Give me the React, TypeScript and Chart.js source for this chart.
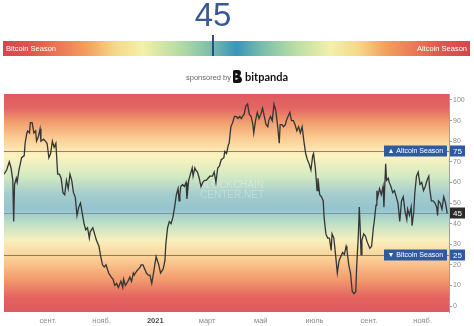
import React, { useEffect, useRef } from "react";
import { Chart, registerables } from "chart.js";

Chart.register(...registerables);

// ---- data -------------------------------------------------------------
const seriesStart = "2020-07-13";
const axisEnd = "2021-12-01";

// days since seriesStart for each reading of the index
const readingDays = [
  0, 3, 6, 8, 10, 11, 12, 14, 15, 17, 19, 20, 23, 24, 26, 27, 29, 30, 32, 34,
  36, 37, 39, 41, 42, 45, 47, 49, 51, 53, 55, 57, 59, 61, 63, 65, 67, 69, 71, 73,
  75, 77, 79, 81, 83, 85, 87, 89, 91, 93, 95, 97, 98, 101, 103, 105, 108, 110, 112, 114,
  116, 117, 119, 122, 124, 126, 128, 130, 133, 135, 136, 138, 141, 143, 145, 147, 148, 151, 153, 155,
  156, 158, 160, 162, 164, 166, 168, 170, 173, 176, 178, 181, 183, 184, 186, 188, 190, 192, 194, 196,
  198, 199, 200, 201, 203, 205, 207, 208, 210, 212, 214, 215, 217, 218, 220, 222, 224, 226, 228, 230,
  232, 234, 236, 237, 239, 241, 243, 245, 247, 250, 251, 253, 255, 256, 258, 260, 262, 264, 266, 268,
  270, 271, 273, 275, 277, 279, 281, 283, 284, 286, 288, 290, 292, 294, 296, 298, 300, 301, 303, 305,
  307, 309, 311, 313, 314, 316, 318, 320, 321, 323, 325, 327, 329, 331, 333, 335, 337, 339, 341, 343,
  345, 347, 349, 351, 352, 354, 356, 357, 359, 361, 363, 364, 366, 368, 370, 372, 373, 375, 377, 379,
  381, 383, 385, 387, 389, 390, 392, 394, 396, 398, 400, 401, 403, 404, 405, 406, 407, 409, 411, 413,
  415, 416, 418, 420, 421, 423, 424, 425, 427, 429, 431, 432, 434, 435, 437, 438, 440, 442, 444, 446,
  448, 450, 452, 454, 456, 458, 459, 461, 463, 464, 466, 467, 469, 471, 473, 475, 477, 479, 481, 483,
  484, 486, 488, 490, 492, 493, 494, 496, 498, 500, 502, 504,
];

// Altcoin Season Index value at each reading
const indexValues = [
  64, 66, 70, 67, 61, 41, 59, 62, 60, 66, 70, 72, 73, 79, 84, 85, 84, 89, 89, 84,
  85, 80, 82, 86, 80, 81, 80, 79, 72, 74, 80, 77, 79, 64, 64, 62, 55, 54, 61, 57,
  64, 61, 55, 53, 44, 48, 50, 45, 40, 37, 38, 33, 36, 38, 35, 32, 29, 24, 20, 19,
  20, 20, 16, 14, 13, 10, 11, 9, 12, 9, 13, 10, 12, 14, 12, 16, 15, 17, 18, 19,
  20, 20, 18, 16, 15, 15, 11, 16, 24, 20, 16, 18, 22, 30, 38, 41, 40, 43, 48, 54,
  57, 51, 54, 58, 59, 58, 60, 52, 61, 64, 67, 63, 67, 66, 65, 62, 58, 60, 61, 61,
  62, 63, 63, 63, 65, 60, 67, 68, 71, 72, 75, 74, 78, 79, 87, 89, 92, 92, 91, 92,
  91, 92, 93, 97, 98, 93, 92, 88, 84, 90, 94, 91, 93, 96, 92, 88, 87, 90, 92, 90,
  98, 95, 88, 79, 88, 88, 87, 88, 90, 92, 94, 90, 90, 88, 85, 87, 84, 87, 80, 74,
  71, 69, 66, 73, 74, 67, 56, 62, 54, 53, 51, 43, 35, 33, 33, 27, 35, 33, 25, 16,
  22, 24, 26, 25, 29, 27, 20, 16, 7, 6, 7, 19, 35, 48, 38, 25, 32, 35, 34, 31,
  29, 28, 29, 38, 41, 49, 56, 53, 57, 54, 58, 48, 69, 61, 62, 60, 58, 55, 56, 53,
  50, 41, 51, 53, 46, 42, 47, 44, 48, 39, 46, 54, 63, 65, 59, 60, 56, 58, 61, 63,
  57, 51, 51, 50, 48, 44, 51, 50, 47, 53, 50, 45,
];

const currentIndex = 45;
const altcoinSeasonLevel = 75;
const bitcoinSeasonLevel = 25;

const yTickValues = [0, 10, 20, 30, 40, 50, 60, 70, 80, 90, 100];
const monthTickDates = [
  "2020-09-01", "2020-11-01", "2021-01-01", "2021-03-01",
  "2021-05-01", "2021-07-01", "2021-09-01", "2021-11-01",
];
const monthTickLabels = ["сент.", "нояб.", "2021", "март", "май", "июль", "сент.", "нояб."];

// ---- helpers ----------------------------------------------------------
const DAY_MS = 86400000;
const dayOf = (iso: string) =>
  Math.round((Date.parse(iso) - Date.parse(seriesStart)) / DAY_MS);

const FONT = '"Liberation Sans", Arial, sans-serif';

// colour bands of the index background, keyed by index level
const bandStops: [number, string][] = [
  [103, "#de5a5f"],
  [96, "#e36663"],
  [89, "#f19f6e"],
  [81, "#fbcf96"],
  [73, "#fdf3bf"],
  [63, "#d3eac2"],
  [54, "#a3ccce"],
  [47, "#95c4cf"],
  [40, "#bfe0c6"],
  [32, "#f8f0bc"],
  [23, "#fbcf96"],
  [13, "#f29c6d"],
  [4, "#e3625f"],
  [-3, "#de5a5f"],
];

const seasonPlugin = {
  id: "seasonBands",
  beforeDatasetsDraw(chart: any) {
    const { ctx, chartArea, scales } = chart;
    const { left, right, top, bottom } = chartArea;
    const y = scales.y;
    ctx.save();
    const g = ctx.createLinearGradient(0, top, 0, bottom);
    for (const [v, c] of bandStops) {
      const p = (y.getPixelForValue(v) - top) / (bottom - top);
      g.addColorStop(Math.min(1, Math.max(0, p)), c);
    }
    ctx.fillStyle = g;
    ctx.fillRect(left, top, right - left, bottom - top);

    // site watermark
    ctx.fillStyle = "rgba(255,255,255,0.3)";
    ctx.font = `10px ${FONT}`;
    ctx.textAlign = "right";
    ctx.textBaseline = "middle";
    ctx.fillText("BLOCKCHAIN", 264, 185);
    ctx.fillText("CENTER.NET", 264, 195);

    // threshold and current level lines
    const hline = (v: number, color: string) => {
      const py = Math.round(y.getPixelForValue(v)) + 0.5;
      ctx.strokeStyle = color;
      ctx.lineWidth = 1;
      ctx.beginPath();
      ctx.moveTo(left, py);
      ctx.lineTo(right, py);
      ctx.stroke();
    };
    hline(altcoinSeasonLevel, "rgba(95,95,95,0.75)");
    hline(bitcoinSeasonLevel, "rgba(95,95,95,0.75)");
    hline(currentIndex, "rgba(80,110,125,0.55)");
    ctx.restore();
  },
  afterDraw(chart: any) {
    const { ctx, chartArea, scales } = chart;
    const y = scales.y;
    const right = chartArea.right;
    ctx.save();
    ctx.textBaseline = "middle";

    const tag = (v: number, text: string, bg: string) => {
      const py = Math.round(y.getPixelForValue(v));
      ctx.font = `7px ${FONT}`;
      const w = Math.max(58, Math.ceil(ctx.measureText(text).width) + 7);
      ctx.fillStyle = bg;
      ctx.fillRect(right - 2 - w, py - 5.5, w, 11);
      ctx.fillStyle = "#ffffff";
      ctx.textAlign = "left";
      ctx.fillText(text, right - 2 - w + 3.5, py + 0.5);
    };
    const valueBox = (v: number, bg: string) => {
      const py = Math.round(y.getPixelForValue(v));
      ctx.fillStyle = bg;
      ctx.fillRect(right + 1, py - 5.5, 15, 11);
      ctx.fillStyle = "#ffffff";
      ctx.font = `8px ${FONT}`;
      ctx.textAlign = "center";
      ctx.fillText(String(v), right + 8.5, py + 0.5);
    };
    tag(altcoinSeasonLevel, "▲ Altcoin Season", "#2d5aa2");
    valueBox(altcoinSeasonLevel, "#2d5aa2");
    tag(bitcoinSeasonLevel, "▼ Bitcoin Season", "#2d5aa2");
    valueBox(bitcoinSeasonLevel, "#2d5aa2");
    valueBox(currentIndex, "#2a2a2a");
    ctx.restore();
  },
};

const headerGradient =
  "linear-gradient(to right, #d8444e 0%, #e05a50 7%, #f3a05e 18%, #f6d88a 24%, #f3f1aa 30%, #b4dba4 38%, #7fc0ab 44%, #3a95ba 50%, #7fc0ab 56%, #b4dba4 62%, #f3f1aa 70%, #f6d88a 76%, #f3a05e 82%, #e05a50 93%, #d8444e 100%)";

export default function App() {
  const canvasRef = useRef<HTMLCanvasElement>(null);

  useEffect(() => {
    const canvas = canvasRef.current;
    if (!canvas) return;
    const points = readingDays.map((d, i) => ({ x: d, y: indexValues[i] }));
    const chart = new Chart(canvas, {
      type: "line",
      data: {
        datasets: [
          {
            data: points,
            borderColor: "#353535",
            borderWidth: 1.3,
            pointRadius: 0,
            tension: 0,
            fill: false,
          },
        ],
      },
      options: {
        responsive: false,
        animation: false,
        devicePixelRatio: 1,
        layout: { padding: { left: 4, top: 94, right: 0, bottom: 0 } },
        plugins: { legend: { display: false }, tooltip: { enabled: false } },
        scales: {
          x: {
            type: "linear",
            min: 0,
            max: dayOf(axisEnd),
            grid: { display: false, drawTicks: false },
            border: { display: false },
            afterBuildTicks: (scale: any) => {
              scale.ticks = monthTickDates.map((d) => ({ value: dayOf(d) }));
            },
            afterFit: (scale: any) => {
              scale.height = 14;
            },
            ticks: {
              autoSkip: false,
              maxRotation: 0,
              padding: 4,
              callback: (_v: any, i: number) => monthTickLabels[i],
              color: (c: any) => (monthTickLabels[c.index] === "2021" ? "#505050" : "#8a8a8a"),
              font: (c: any) =>
                monthTickLabels[c.index] === "2021"
                  ? { family: FONT, size: 7.5, weight: "bold" }
                  : { family: FONT, size: 7.5 },
            },
          },
          y: {
            position: "right",
            min: -2.9,
            max: 102.9,
            afterBuildTicks: (scale: any) => {
              scale.ticks = yTickValues.map((v) => ({ value: v }));
            },
            afterFit: (scale: any) => {
              scale.width = 25;
            },
            grid: { drawOnChartArea: false, tickLength: 3, color: "#a0a0a0" },
            border: { color: "#a0a0a0" },
            ticks: {
              padding: 1,
              color: "#8a8a8a",
              font: { family: FONT, size: 7 },
            },
          },
        },
      },
      plugins: [seasonPlugin],
    } as any);
    return () => chart.destroy();
  }, []);

  return (
    <div
      style={{
        position: "fixed",
        left: 0,
        top: 0,
        width: 474,
        height: 326,
        background: "#ffffff",
        overflow: "hidden",
        fontFamily: FONT,
      }}
    >
      <canvas
        ref={canvasRef}
        width={474}
        height={326}
        style={{ position: "absolute", left: 0, top: 0, width: 474, height: 326 }}
      />
      {/* current index value */}
      <div
        style={{
          position: "absolute",
          left: 183,
          top: -2,
          width: 60,
          textAlign: "center",
          fontSize: 33,
          lineHeight: "33px",
          color: "#3a5994",
        }}
      >
        {currentIndex}
      </div>
      {/* season scale */}
      <div
        style={{
          position: "absolute",
          left: 3,
          top: 41,
          width: 467,
          height: 15,
          background: headerGradient,
        }}
      />
      <div
        style={{
          position: "absolute",
          left: 3 + (467 * currentIndex) / 100 - 1,
          top: 35,
          width: 2,
          height: 21,
          background: "#2f4c80",
        }}
      />
      <div
        style={{
          position: "absolute",
          left: 6,
          top: 43,
          fontSize: 7.5,
          lineHeight: "11px",
          color: "#ffffff",
        }}
      >
        Bitcoin Season
      </div>
      <div
        style={{
          position: "absolute",
          right: 7,
          top: 43,
          fontSize: 7.5,
          lineHeight: "11px",
          color: "#ffffff",
        }}
      >
        Altcoin Season
      </div>
      {/* sponsor line */}
      <div
        style={{
          position: "absolute",
          left: 186,
          top: 73,
          fontSize: 7.5,
          lineHeight: "10px",
          color: "#666666",
        }}
      >
        sponsored by
      </div>
      <svg
        style={{ position: "absolute", left: 232, top: 70 }}
        width={10}
        height={13}
        viewBox="0 0 10 13"
      >
        <path
          d="M1 1.5 Q1 0 2.5 0 L6 0 Q9 0 9 3 Q9 5 7.5 6 Q10 7 10 9.5 Q10 13 6.5 13 L2.5 13 Q1 13 1 11.5 Z M3.5 3 L3.5 5.5 L6 4.2 Z M3.5 7.5 L3.5 10 L6.5 8.7 Z"
          fill="#111111"
          fillRule="evenodd"
        />
      </svg>
      <div
        style={{
          position: "absolute",
          left: 245,
          top: 70,
          fontSize: 11,
          lineHeight: "13px",
          fontWeight: "bold",
          fontFamily: "Lato, sans-serif",
          color: "#111111",
        }}
      >
        bitpanda
      </div>
    </div>
  );
}
